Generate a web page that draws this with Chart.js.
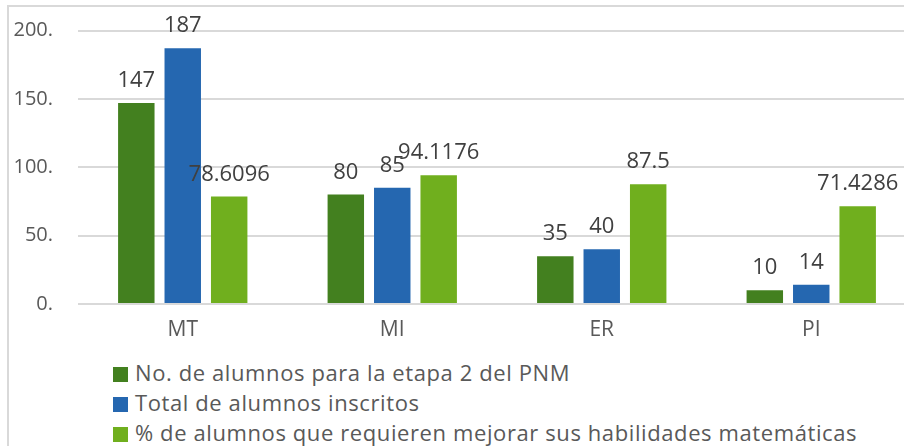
<!DOCTYPE html>
<html>
<head>
<meta charset="utf-8">
<script src="https://cdn.jsdelivr.net/npm/chart.js@4"></script>
<style>
  html, body { margin: 0; padding: 0; background: #fff; overflow: hidden; }
  #wrap { position: relative; width: 904px; height: 446px; overflow: hidden; }
  #frame { position: absolute; left: 7px; top: 5px; width: 1000px; height: 500px;
           border-left: 2px solid #d9d9d9; border-top: 2px solid #d9d9d9; }
  #box { position: absolute; left: 0; top: 0; width: 918px; height: 350px; }
  #legend { position: absolute; left: 113px; top: 357px; font-family: 'Open Sans', sans-serif;
            font-size: 22px; letter-spacing: 0.6px; color: #595959; }
  #legend div { height: 30px; line-height: 30px; white-space: nowrap; }
  #legend span { display: inline-block; width: 15px; height: 15px; margin-right: 7px; vertical-align: -1px; }
</style>
</head>
<body>
<div id="wrap">
  <div id="frame"></div>
  <div id="box"><canvas id="chart"></canvas></div>
  <div id="legend"></div>
</div>
<script>
// data
const categories = ['MT', 'MI', 'ER', 'PI'];
const seriesNames = [
  'No. de  alumnos para la etapa 2 del PNM',
  'Total de alumnos inscritos',
  '% de alumnos que requieren mejorar sus habilidades matemáticas'
];
const etapa2 = [147, 80, 35, 10];
const inscritos = [187, 85, 40, 14];
const porcentaje = [78.6096, 94.1176, 87.5, 71.4286];
const yTicks = [0, 50, 100, 150, 200];

const colors = ['#43801f', '#2567b0', '#70af1e'];
const fontFam = "'Open Sans', sans-serif";

// draws the value above every bar
const barLabels = {
  id: 'barLabels',
  afterDatasetsDraw(chart) {
    const ctx = chart.ctx;
    ctx.save();
    ctx.font = '22px ' + fontFam;
    ctx.fillStyle = '#404040';
    ctx.textAlign = 'center';
    ctx.textBaseline = 'alphabetic';
    chart.data.datasets.forEach((ds, i) => {
      chart.getDatasetMeta(i).data.forEach((bar, j) => {
        ctx.fillText(String(ds.data[j]), bar.x, bar.y - 16);
      });
    });
    ctx.restore();
  }
};

const allSeries = [etapa2, inscritos, porcentaje];

new Chart(document.getElementById('chart'), {
  type: 'bar',
  data: {
    labels: categories,
    datasets: allSeries.map((d, i) => ({
      label: seriesNames[i],
      data: d,
      backgroundColor: colors[i],
      categoryPercentage: 0.665,
      barPercentage: 0.785
    }))
  },
  options: {
    responsive: true,
    maintainAspectRatio: false,
    animation: false,
    layout: { padding: { top: 30.5, right: 2, left: 0, bottom: 0 } },
    plugins: { legend: { display: false }, tooltip: { enabled: false } },
    scales: {
      x: {
        grid: { display: false, drawTicks: false },
        border: { display: false },
        ticks: { color: '#595959', font: { family: fontFam, size: 21 }, padding: 13 },
        afterFit(s) { s.height = 46; }
      },
      y: {
        min: 0,
        max: 200,
        afterBuildTicks(s) { s.ticks = yTicks.map(v => ({ value: v })); },
        grid: { color: '#d9d9d9', lineWidth: 2, drawTicks: false },
        border: { display: false },
        ticks: {
          color: '#595959',
          font: { family: fontFam, size: 20 },
          padding: 25,
          callback: v => v + '.'
        },
        // fixed width, and don't let the tick padding push the plot down
        afterFit(s) { s.width = 78; s.paddingTop = 0; s.paddingBottom = 0; }
      }
    }
  },
  plugins: [barLabels]
});

// legend as html, stacked
const legend = document.getElementById('legend');
seriesNames.forEach((name, i) => {
  const row = document.createElement('div');
  const sw = document.createElement('span');
  sw.style.background = colors[i];
  row.appendChild(sw);
  row.appendChild(document.createTextNode(name));
  legend.appendChild(row);
});
</script>
</body>
</html>
